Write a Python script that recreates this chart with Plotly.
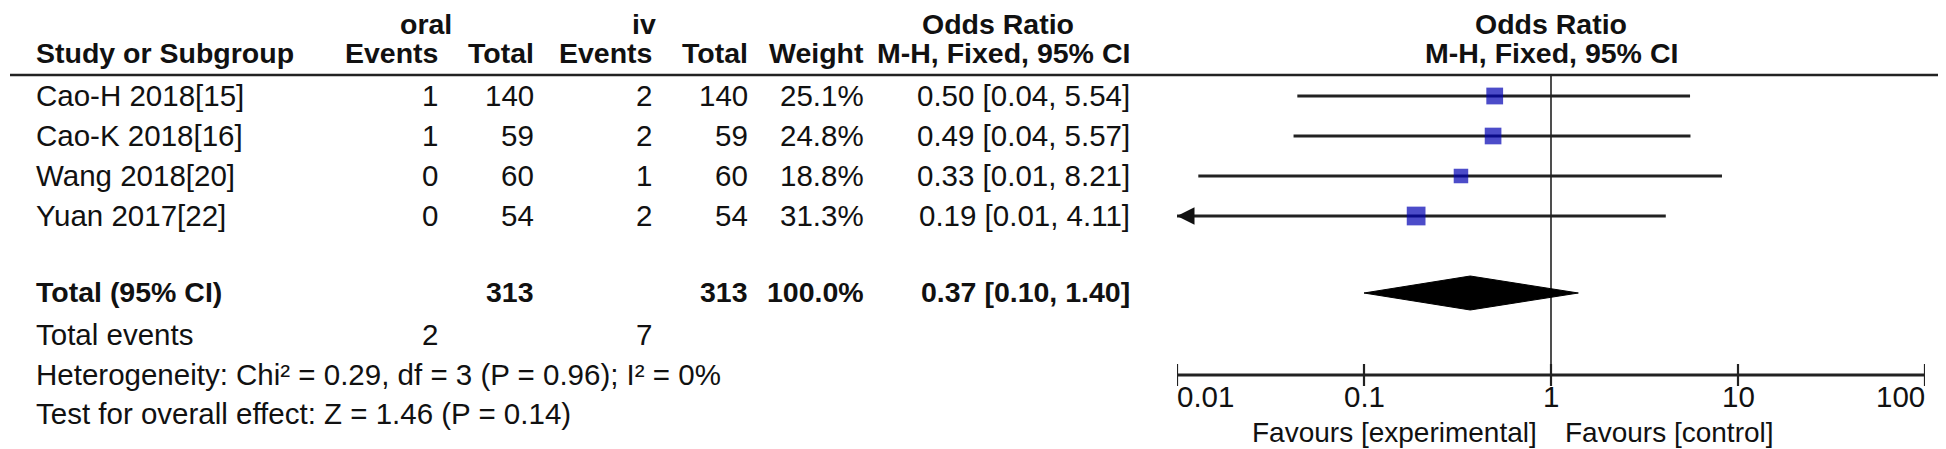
import math
import plotly.graph_objects as go

# ---------------- data ----------------
studies = ["Cao-H 2018[15]", "Cao-K 2018[16]", "Wang 2018[20]", "Yuan 2017[22]"]
oral_events = [1, 1, 0, 0]
oral_total = [140, 59, 60, 54]
iv_events = [2, 2, 1, 2]
iv_total = [140, 59, 60, 54]
weights = [25.1, 24.8, 18.8, 31.3]
odds_ratio = [0.50, 0.49, 0.33, 0.19]
ci_low = [0.044, 0.042, 0.013, 0.009]
ci_high = [5.54, 5.57, 8.21, 4.11]

total_or = 0.37
total_low = 0.10
total_high = 1.40
total_weight = 100.0
heterogeneity_text = "Heterogeneity: Chi² = 0.29, df = 3 (P = 0.96); I² = 0%"
overall_text = "Test for overall effect: Z = 1.46 (P = 0.14)"

tick_values = [0.01, 0.1, 1, 10, 100]
tick_labels = ["0.01", "0.1", "1", "10", "100"]
favours_left = "Favours [experimental]"
favours_right = "Favours [control]"

# ---------------- layout constants (pixels) ----------------
W, H = 1946, 449
FONT = "Liberation Sans, Arial, sans-serif"
FS = 29.5
FSB = 28.5
TXT = "#111111"
LINE = "#222222"
BLUE = "rgb(0,0,178)"

ROW0_PX, ROW_H = 88, 40          # first study row centre / row spacing
AX_LEFT, AX_RIGHT = 1169, 1917    # log axis extent
RULE_PX = 67
AXIS_PX = 367
TOTAL_PX = 285
TEXT_OFFSET = 6                   # empirical baseline correction


def row_of(px):
    return (px - ROW0_PX) / ROW_H


def ypaper(baseline_px, size):
    centre = baseline_px - TEXT_OFFSET - 0.3465 * size
    return 1 - centre / H


annotations = []


def txt(text, x_px, baseline_px, anchor="right", bold=False, size=None, xref="paper", x=None, xshift=0):
    if size is None:
        size = FSB if bold else FS
    annotations.append(dict(
        text=f"<b>{text}</b>" if bold else text,
        x=(x_px / W) if x is None else x, xref=xref,
        y=ypaper(baseline_px, size), yref="paper",
        xanchor=anchor, yanchor="middle", showarrow=False,
        font=dict(family=FONT, size=size, color=TXT),
        borderpad=0, borderwidth=0, xshift=xshift,
    ))


# column right edges
COL_STUDY = 28
COL_OE, COL_OT, COL_IE, COL_IT, COL_W, COL_OR = 430, 526, 644, 740, 856, 1122

# headers
HB1 = 31.5
txt("oral", 418, HB1, "center", True)
txt("iv", 636, HB1, "center", True)
txt("Odds Ratio", 990, HB1, "center", True)
txt("Odds Ratio", 0, HB1, "center", True, xref="x", x=0)
HB2 = 61
txt("Study or Subgroup", COL_STUDY, HB2, "left", True)
txt("Events", COL_OE, HB2, "right", True)
txt("Total", COL_OT, HB2, "right", True)
txt("Events", COL_IE, HB2, "right", True)
txt("Total", COL_IT, HB2, "right", True)
txt("Weight", COL_W, HB2, "right", True)
txt("M-H, Fixed, 95% CI", COL_OR, HB2, "right", True)
txt("M-H, Fixed, 95% CI", 0, HB2, "center", True, xref="x", x=0)

# study rows
for i, name in enumerate(studies):
    b = 104 + ROW_H * i
    txt(name, COL_STUDY, b, "left")
    txt(str(oral_events[i]), COL_OE, b)
    txt(str(oral_total[i]), COL_OT, b)
    txt(str(iv_events[i]), COL_IE, b)
    txt(str(iv_total[i]), COL_IT, b)
    txt(f"{weights[i]:.1f}%", COL_W, b)
    txt(f"{odds_ratio[i]:.2f} [{ci_low[i]:.2f}, {ci_high[i]:.2f}]", COL_OR, b)

# total row
txt("Total (95% CI)", COL_STUDY, 300, "left", True)
txt(str(sum(oral_total)), COL_OT, 300, "right", True)
txt(str(sum(iv_total)), COL_IT, 300, "right", True)
txt(f"{total_weight:.1f}%", COL_W, 300, "right", True)
txt(f"{total_or:.2f} [{total_low:.2f}, {total_high:.2f}]", COL_OR, 300, "right", True)

txt("Total events", COL_STUDY, 343, "left")
txt(str(sum(oral_events)), COL_OE, 343)
txt(str(sum(iv_events)), COL_IE, 343)
txt(heterogeneity_text, COL_STUDY, 383, "left")
txt(overall_text, COL_STUDY, 422, "left")

# tick labels
for k, (v, lab) in enumerate(zip(tick_values, tick_labels)):
    anc = "left" if k == 0 else ("right" if k == len(tick_values) - 1 else "center")
    txt(lab, 0, 405, anc, xref="x", x=math.log10(v))

txt(favours_left, 0, 440, "right", xref="x", x=0, xshift=-14, size=28)
txt(favours_right, 0, 440, "left", xref="x", x=0, xshift=14, size=28)

# ---------------- traces ----------------
fig = go.Figure()
xmin = tick_values[0]

# vertical line of no effect
fig.add_trace(go.Scatter(x=[1, 1], y=[row_of(RULE_PX), row_of(AXIS_PX)], mode="lines",
                         line=dict(color=LINE, width=1.6), hoverinfo="skip"))

# CI lines
for i in range(len(studies)):
    lo = max(ci_low[i], xmin)
    fig.add_trace(go.Scatter(x=[lo, ci_high[i]], y=[i, i], mode="lines",
                             line=dict(color="#222222", width=2.8), hoverinfo="skip"))
    if ci_low[i] < xmin:
        annotations.append(dict(x=math.log10(xmin), y=i, xref="x", yref="y", text="",
                                showarrow=True, ax=16, ay=0, arrowhead=2, arrowsize=1.25,
                                arrowwidth=2.8, arrowcolor="#111111", standoff=0))

# squares (area proportional to weight)
fig.add_trace(go.Scatter(x=odds_ratio, y=list(range(len(studies))), mode="markers",
                         marker=dict(symbol="square", color=BLUE,
                                     size=[3.35 * math.sqrt(w) for w in weights],
                                     line=dict(width=0)),
                         hoverinfo="skip"))

# diamond
tr = row_of(TOTAL_PX)
hh = 17 / ROW_H
fig.add_trace(go.Scatter(x=[total_low, total_or, total_high, total_or, total_low],
                         y=[tr, tr - hh, tr, tr + hh, tr], mode="lines", fill="toself",
                         fillcolor="black", line=dict(color="black", width=1), hoverinfo="skip"))

# axis line and ticks
ya = row_of(AXIS_PX)
fig.add_trace(go.Scatter(x=[tick_values[0], tick_values[-1]], y=[ya, ya], mode="lines",
                         line=dict(color=LINE, width=2.8), hoverinfo="skip"))
tx, ty = [], []
for v in tick_values:
    tx += [v, v, None]
    ty += [row_of(356), row_of(378), None]
fig.add_trace(go.Scatter(x=tx, y=ty, mode="lines", line=dict(color=LINE, width=2.2),
                         hoverinfo="skip"))

fig.update_layout(
    width=W, height=H, margin=dict(l=0, r=0, t=0, b=0),
    paper_bgcolor="white", plot_bgcolor="white", showlegend=False,
    xaxis=dict(type="log", range=[math.log10(tick_values[0]), math.log10(tick_values[-1])],
               domain=[AX_LEFT / W, AX_RIGHT / W], visible=False, fixedrange=True),
    yaxis=dict(range=[row_of(H), row_of(0)], domain=[0, 1], visible=False, fixedrange=True),
    annotations=annotations,
    shapes=[dict(type="line", xref="paper", yref="paper", x0=2 / W, x1=1944 / W,
                 y0=1 - RULE_PX / H, y1=1 - RULE_PX / H, line=dict(color=LINE, width=2.6))],
)

fig.write_html("out.html")
